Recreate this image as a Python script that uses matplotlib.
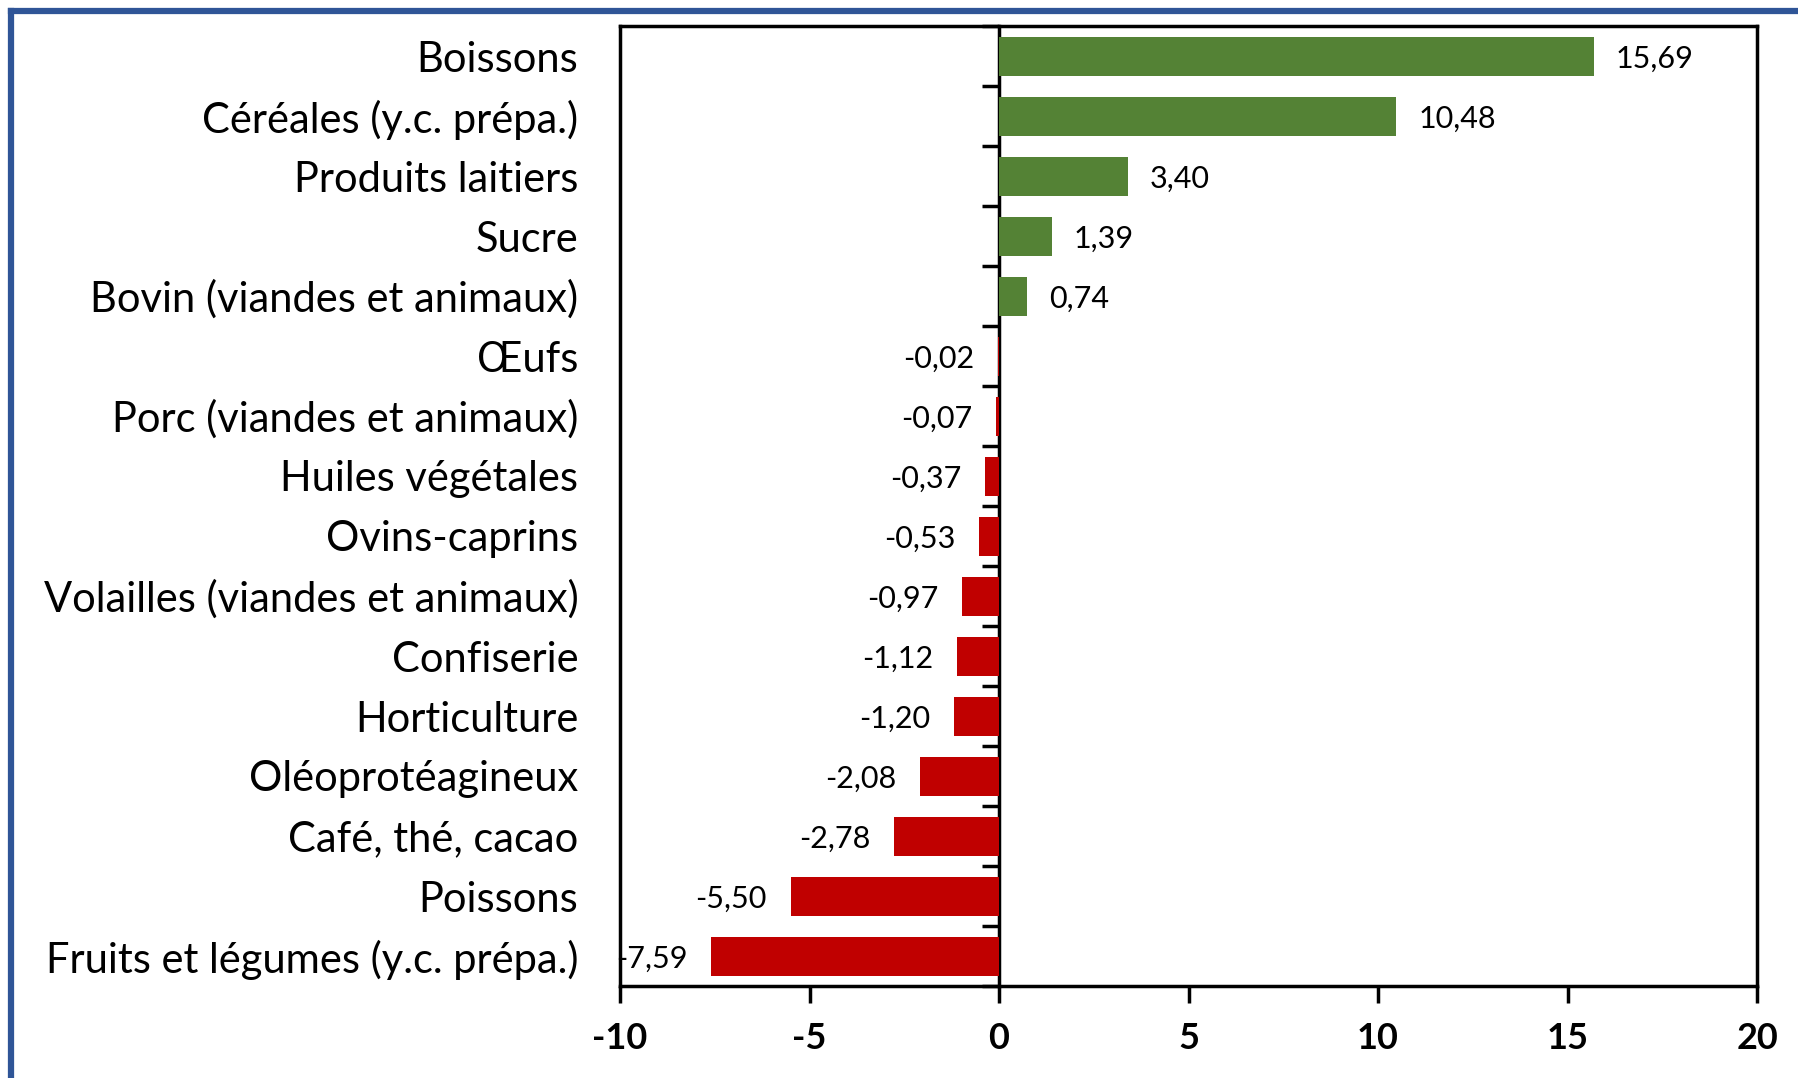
import numpy as np
import matplotlib.pyplot as plt
from matplotlib.lines import Line2D

categories = [
    "Boissons",
    "Céréales (y.c. prépa.)",
    "Produits laitiers",
    "Sucre",
    "Bovin (viandes et animaux)",
    "Œufs",
    "Porc (viandes et animaux)",
    "Huiles végétales",
    "Ovins-caprins",
    "Volailles (viandes et animaux)",
    "Confiserie",
    "Horticulture",
    "Oléoprotéagineux",
    "Café, thé, cacao",
    "Poissons",
    "Fruits et légumes (y.c. prépa.)",
]
values = [15.69, 10.48, 3.40, 1.39, 0.74, -0.02, -0.07, -0.37, -0.53,
          -0.97, -1.12, -1.20, -2.08, -2.78, -5.50, -7.59]
x_ticks = [-10, -5, 0, 5, 10, 15, 20]

GREEN = "#548235"
RED = "#C00000"

plt.rcParams["font.family"] = ["Lato", "DejaVu Sans"]

fig = plt.figure(figsize=(17.98, 10.78), dpi=100)
ax = fig.add_axes([620 / 1798, 1 - 986 / 1078, (1757 - 620) / 1798, (986 - 26) / 1078])

y = np.arange(len(categories))
colors = [GREEN if v > 0 else RED for v in values]
ax.barh(y, values, height=0.65, color=colors)

ax.set_xlim(-10, 20)
ax.set_ylim(len(categories) - 0.5, -0.5)
ax.set_xticks(x_ticks)
ax.set_xticklabels([str(t) for t in x_ticks], fontsize=26, fontweight="bold")
ax.tick_params(axis="x", direction="out", length=12, width=2.5, pad=14)
ax.set_yticks(y)
ax.set_yticklabels(categories, fontsize=30)
ax.tick_params(axis="y", length=0, pad=30)
for s in ax.spines.values():
    s.set_linewidth(2.5)

# vertical axis crossing at zero, with ticks between categories
sec = ax.secondary_yaxis((0 - (-10)) / 30)
sec.set_yticks(np.arange(len(categories) + 1) - 0.5)
sec.set_yticklabels([])
sec.tick_params(direction="out", length=12, width=2.5)
sec.spines["left"].set_linewidth(2.5)

for yi, v in zip(y, values):
    txt = f"{v:.2f}".replace(".", ",")
    if v > 0:
        ax.annotate(txt, (v, yi), xytext=(16, -2), textcoords="offset points",
                    ha="left", va="center", fontsize=22)
    else:
        ax.annotate(txt, (v, yi), xytext=(-17, -2), textcoords="offset points",
                    ha="right", va="center", fontsize=22)

# blue frame (top and left)
fig.add_artist(Line2D([0.006, 1], [1 - 11 / 1078] * 2, color="#2F5597", lw=4.5,
                      transform=fig.transFigure))
fig.add_artist(Line2D([0.006, 0.006], [0, 1 - 11 / 1078], color="#2F5597", lw=4.5,
                      transform=fig.transFigure))

fig.savefig("out.png", dpi=100)
